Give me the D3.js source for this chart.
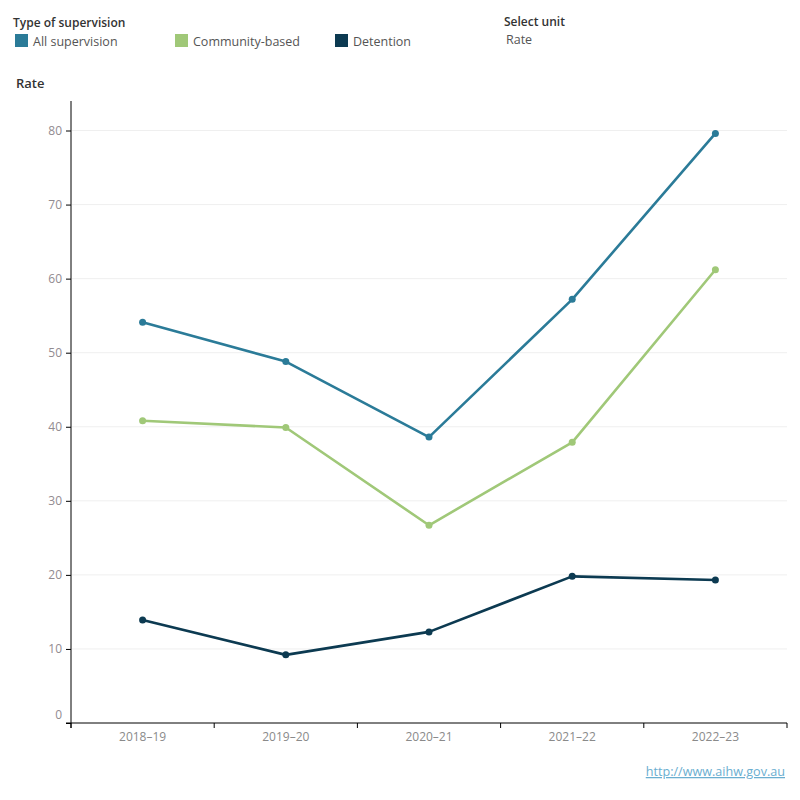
<!DOCTYPE html>
<html><head><meta charset="utf-8">
<script src="https://cdn.jsdelivr.net/npm/d3@7"></script>
<style>
body{margin:0;background:#fff;}
svg text{font-family:"Open Sans","Noto Sans",sans-serif;}
</style></head>
<body><svg id="c" width="800" height="800"></svg>
<script>
const years = ["2018–19","2019–20","2020–21","2021–22","2022–23"];
const seriesNames = ["All supervision","Community-based","Detention"];
const allSupervision = [54.1, 48.8, 38.6, 57.2, 79.6];
const communityBased = [40.8, 39.9, 26.7, 37.9, 61.2];
const detention = [13.9, 9.2, 12.3, 19.8, 19.3];
const yTicks = [0,10,20,30,40,50,60,70,80];
const colors = ["#2b7b98","#a0c878","#0c3a51"];

const svg = d3.select("#c");
const series = [allSupervision, communityBased, detention].map((v,i)=>({name:seriesNames[i], values:v, color:colors[i]}));

const x = d3.scaleBand().domain(years).range([71,787]);
const y = d3.scaleLinear().domain([0,80]).range([723,130.5]);

// gridlines
svg.append("g").selectAll("line").data(yTicks.filter(d=>d>0)).join("line")
  .attr("x1",72).attr("x2",787).attr("y1",d=>y(d)).attr("y2",d=>y(d))
  .attr("stroke","#efefef").attr("stroke-width",1);

// y axis
const ya = svg.append("g").attr("transform","translate(71,0)")
  .call(d3.axisLeft(y).tickValues(yTicks).tickSize(5).tickPadding(4));
ya.select(".domain").attr("d","M0,101V728").attr("stroke","#000");
ya.selectAll(".tick line").attr("stroke","#000");
ya.selectAll(".tick text").attr("fill","#928b90").attr("font-size",12).attr("dy","0.32em");
ya.selectAll(".tick").filter(d=>d===0).select("text").attr("dy","-0.35em");

// x axis
const xa = svg.append("g").attr("transform","translate(0,723)")
  .call(d3.axisBottom(x).tickSize(0).tickPadding(9));
xa.select(".domain").attr("stroke","#000").attr("d","M66,0H787");
xa.selectAll(".tick text").attr("fill","#8a8a8a").attr("font-size",12);
svg.append("g").selectAll("line").data(years.concat(["end"])).join("line")
  .attr("x1",(d,i)=>i<years.length?x(d):x.range()[1])
  .attr("x2",(d,i)=>i<years.length?x(d):x.range()[1])
  .attr("y1",723).attr("y2",728).attr("stroke","#000");

// lines
const line = d3.line().x((d,i)=>x(years[i])+x.bandwidth()/2).y(d=>y(d));
const g = svg.append("g");
series.forEach(s=>{
  g.append("path").datum(s.values).attr("d",line).attr("fill","none")
    .attr("stroke",s.color).attr("stroke-width",2.6).attr("stroke-linejoin","round");
  g.selectAll(null).data(s.values).join("circle")
    .attr("cx",(d,i)=>x(years[i])+x.bandwidth()/2).attr("cy",d=>y(d)).attr("r",3.5)
    .attr("fill",s.color);
});

// legend
svg.append("text").attr("x",13).attr("y",27).attr("font-size",12).attr("font-weight",600).attr("fill","#333").text("Type of supervision");
const lx = [15,175,335];
series.forEach((s,i)=>{
  svg.append("rect").attr("x",lx[i]).attr("y",34).attr("width",13).attr("height",13).attr("fill",s.color);
  svg.append("text").attr("x",lx[i]+18).attr("y",45.5).attr("font-size",12.5).attr("fill","#555").text(s.name);
});
svg.append("text").attr("x",504).attr("y",26).attr("font-size",12).attr("font-weight",600).attr("fill","#333").text("Select unit");
svg.append("text").attr("x",506).attr("y",43.5).attr("font-size",12.5).attr("fill","#555").text("Rate");
svg.append("text").attr("x",16).attr("y",88).attr("font-size",13).attr("font-weight",600).attr("fill","#333").text("Rate");

// footer link
svg.append("text").attr("x",785).attr("y",776).attr("text-anchor","end").attr("font-size",12.6)
  .attr("fill","#6aaed0").attr("text-decoration","underline").text("http://www.aihw.gov.au");
</script></body></html>
